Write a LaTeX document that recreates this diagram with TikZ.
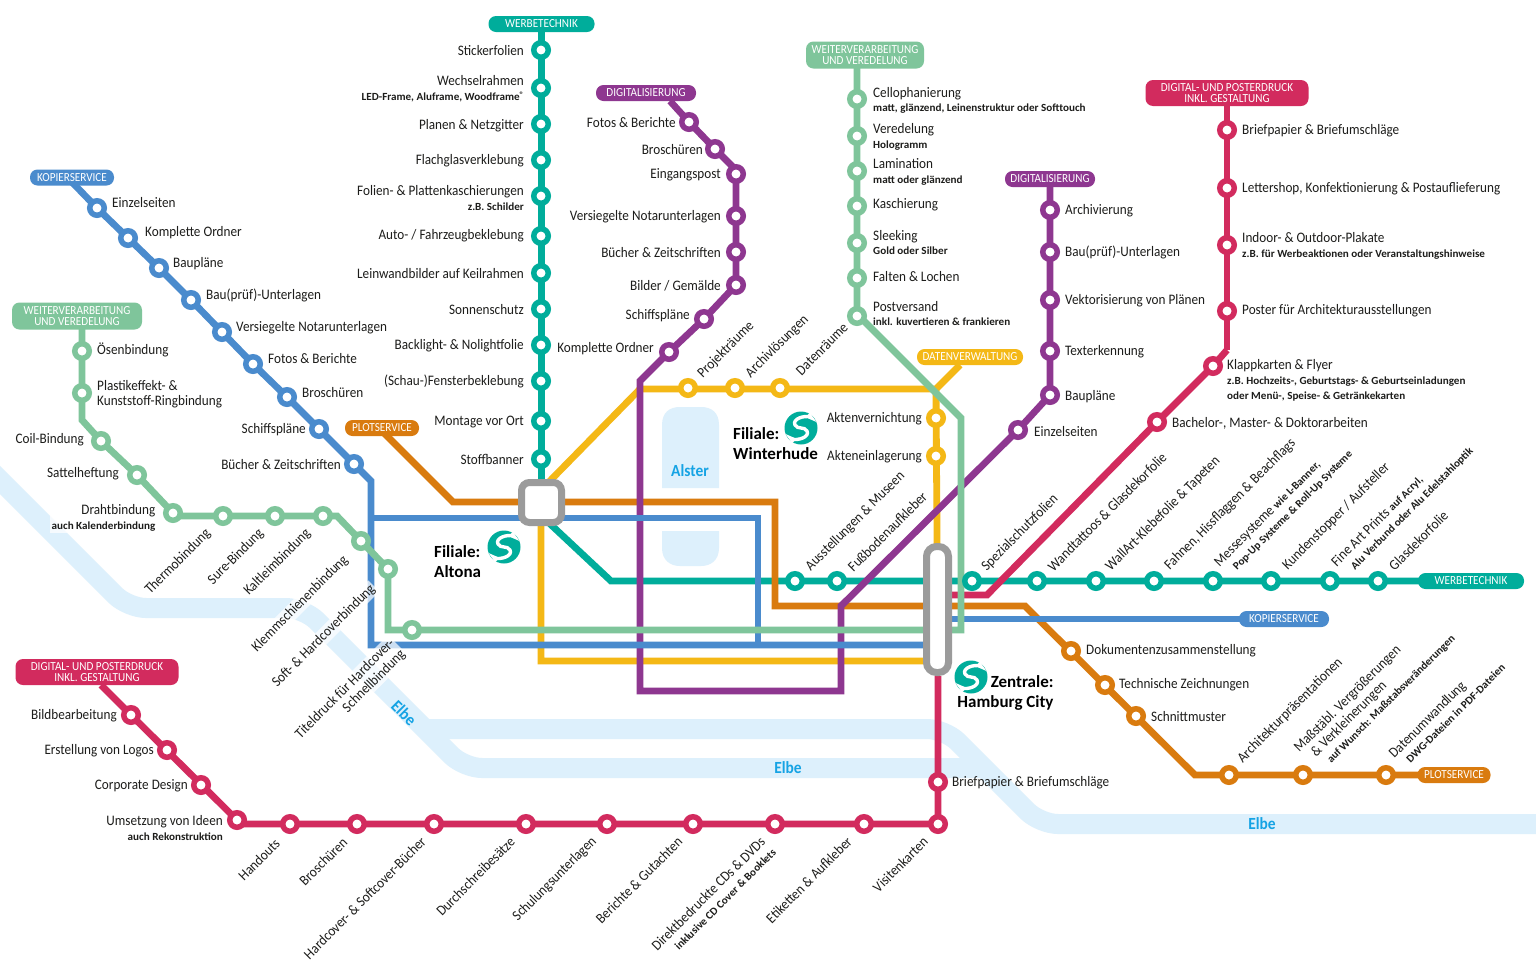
\documentclass[tikz,border=0pt]{standalone}
\usepackage{fontspec}
\setmainfont[FakeStretch=0.91]{Carlito}
\newfontfamily\subfam[FakeStretch=1.02]{Carlito}
\newfontfamily\cityfam[FakeStretch=1.0]{Carlito}
\usetikzlibrary{backgrounds}
\definecolor{ctl}{HTML}{00AD9B}
\definecolor{cgr}{HTML}{7FC59B}
\definecolor{cbl}{HTML}{4A8BCD}
\definecolor{cmg}{HTML}{D22B5E}
\definecolor{cpu}{HTML}{8E3790}
\definecolor{cor}{HTML}{D97B0F}
\definecolor{cye}{HTML}{F4B816}
\definecolor{cgy}{HTML}{9B9B9B}
\definecolor{criv}{HTML}{DDF0FC}
\definecolor{ctx}{HTML}{1D1D1B}
\definecolor{cel}{HTML}{15A3E4}
\pgfdeclarelayer{river}
\pgfdeclarelayer{lines}
\pgfsetlayers{river,lines,main}
\newcommand\subt[1]{{\fontsize{10.9}{15}\selectfont\subfam\bfseries #1}}
\newcommand\stn[4]{\node[stn=#1] (#2) at (#3,#4) {};}
\newcommand\lbl[5]{\node[#1] (#2) at (#3,#4) {#5};}
\newcommand\pillnode[7]{\node[pill=#1,minimum width=#5pt,minimum height=#6pt] (#2) at (#3,#4) {#7};}
\newcommand\logomark[3]{%
  \node[logoc] (#1) at (#2,#3) {};
  \begin{scope}[shift={(#1.center)}]
    \draw[white,line width=3.4pt] (10,-11) .. controls (3,-13) and (-9,-9) .. (-6,-3) .. controls (-3,2) and (3,-2) .. (6,3) .. controls (9,9) and (-3,13) .. (-10,11);
    \fill[white] (4,-11) -- (9,-15) -- (15.5,-6) -- cycle;
    \fill[white] (-4,11) -- (-9,15) -- (-15.5,6) -- cycle;
  \end{scope}}
\tikzset{
  stn/.style={circle,draw=#1,line width=5.5pt,fill=white,minimum size=14.5pt,inner sep=0pt},
  ln/.style={draw=#1,line width=6.8pt,line join=miter},
  pill/.style={fill=#1,rounded corners=7.5pt,inner sep=0pt,text=white,align=center,font=\fontsize{12.3}{11.5}\selectfont},
  hub/.style={draw=cgy,line width=7pt,fill=white,inner sep=0pt},
  base/.style={inner sep=0pt,text=ctx,yshift=-.8pt,font=\fontsize{14.5}{15}\selectfont},
  rt/.style={base,anchor=west,align=left},
  lf/.style={base,anchor=east,align=right},
  ur/.style={rt,rotate=45},
  dl/.style={lf,rotate=45},
  halo/.style={fill=white,fill opacity=.72,text opacity=1,inner sep=1.5pt},
  city/.style={inner sep=0pt,text=black,anchor=west,align=left,font=\fontsize{17}{20}\selectfont\cityfam\bfseries},
  rivertxt/.style={inner sep=0pt,text=cel,font=\fontsize{17}{17}\selectfont\bfseries},
  riv/.style={draw=criv,line width=20pt,rounded corners=18pt},
  logoc/.style={circle,fill=ctl,minimum size=33pt,inner sep=0pt},
  lake/.style={fill=criv}
}
\begin{document}
\begin{tikzpicture}[x=1pt,y=-1pt]
\useasboundingbox (0,0) rectangle (1536,978);

% ---------- labels with a halo lie under the stations
\lbl{lf,halo}{lDraht}{157}{517}{Drahtbindung\\\subt{auch Kalenderbindung}}
\lbl{dl,halo}{lKlemm}{347}{556}{Klemmschienenbindung}
\lbl{dl,halo}{lSoft}{374}{585}{Soft- \& Hardcoverbindung}
\lbl{dl,halo}{lTitel}{399}{645}{Titeldruck für Hardcover-\\Schnellbindung}

% ---------- hubs
\node[hub,minimum width=40pt,minimum height=40pt,rounded corners=8pt] (hubA) at (541.5,502.5) {};
\node[hub,minimum width=22pt,minimum height=126pt,rounded corners=10pt] (hubC) at (937.5,609.5) {};

% ---------- pills
\pillnode{ctl}{pTeA}{541.5}{24}{106}{16}{WERBETECHNIK}
\pillnode{ctl}{pTeB}{1471}{581}{106}{16}{WERBETECHNIK}
\pillnode{cor}{pOrA}{382}{428}{74}{16}{PLOTSERVICE}
\pillnode{cor}{pOrB}{1454}{775}{73}{16}{PLOTSERVICE}
\pillnode{cbl}{pBlA}{72}{177.5}{84}{16}{KOPIERSERVICE}
\pillnode{cbl}{pBlB}{1284}{619}{90}{16}{KOPIERSERVICE}
\pillnode{cgr}{pGrA}{77}{316}{130}{27}{WEITERVERARBEITUNG\\UND VEREDELUNG}
\pillnode{cgr}{pGrB}{865}{55}{118}{27}{WEITERVERARBEITUNG\\UND VEREDELUNG}
\pillnode{cpu}{pPuA}{646}{93}{100}{16}{DIGITALISIERUNG}
\pillnode{cpu}{pPuB}{1050}{179}{90}{16}{DIGITALISIERUNG}
\pillnode{cye}{pYe}{970}{357}{106}{16}{DATENVERWALTUNG}
\pillnode{cmg}{pMgA}{1227}{93}{163}{26}{DIGITAL- UND POSTERDRUCK\\INKL. GESTALTUNG}
\pillnode{cmg}{pMgB}{97}{672}{163}{26}{DIGITAL- UND POSTERDRUCK\\INKL. GESTALTUNG}

% ---------- corner points
\coordinate (kTeA) at (548,522);
\coordinate (kTeB) at (611,581);
\coordinate (kYeA) at (960,365);
\coordinate (kYeB) at (936,389);
\coordinate (kYeC) at (640,389);
\coordinate (kYeD) at (541,490);
\coordinate (kYeE) at (541,661);
\coordinate (kYeF) at (937,661);
\coordinate (kOrA) at (383,432);
\coordinate (kOrB) at (453,502);
\coordinate (kOrC) at (775,502);
\coordinate (kOrD) at (775,606);
\coordinate (kOrE) at (1025,606);
\coordinate (kOrF) at (1195,775);
\coordinate (kBlA) at (67,177);
\coordinate (kBlB) at (371,481);
\coordinate (kBlC) at (371,645);
\coordinate (kBlD) at (937,645);
\coordinate (kBlE) at (371,518);
\coordinate (kBlF) at (758,518);
\coordinate (kBlG) at (758,645);
\coordinate (kBlH) at (937,619);
\coordinate (kGrA) at (82,420);
\coordinate (kGrB) at (177,516);
\coordinate (kGrC) at (337,516);
\coordinate (kGrD) at (388,630);
\coordinate (kGrE) at (961,630);
\coordinate (kGrF) at (961,418);
\coordinate (kGrG) at (857,314);
\coordinate (kPuA) at (670,101);
\coordinate (kPuB) at (736,170);
\coordinate (kPuC) at (640,381);
\coordinate (kPuD) at (640,691);
\coordinate (kPuE) at (841,691);
\coordinate (kPuF) at (841,606);
\coordinate (kMgA) at (1227,350);
\coordinate (kMgB) at (987,595);
\coordinate (kMgC) at (937,595);
\coordinate (kMgD) at (101,685);
\coordinate (kMgE) at (938,676);
\coordinate (kMgF) at (241,824);

% ---------- stations: teal
\stn{ctl}{t1}{541}{50}\stn{ctl}{t2}{541}{88}\stn{ctl}{t3}{541}{124}\stn{ctl}{t4}{541}{160}
\stn{ctl}{t5}{541}{196}\stn{ctl}{t6}{541}{236}\stn{ctl}{t7}{541}{273}\stn{ctl}{t8}{541}{309}
\stn{ctl}{t9}{541}{345}\stn{ctl}{t10}{541}{381}\stn{ctl}{t11}{541}{421}\stn{ctl}{t12}{541}{459}
\stn{ctl}{t13}{795}{581}\stn{ctl}{t14}{837}{581}\stn{ctl}{t15}{972}{581}\stn{ctl}{t16}{1037}{581}
\stn{ctl}{t17}{1096}{581}\stn{ctl}{t18}{1154}{581}\stn{ctl}{t19}{1213}{581}\stn{ctl}{t20}{1271}{581}
\stn{ctl}{t21}{1330}{581}\stn{ctl}{t22}{1378}{581}
% yellow
\stn{cye}{y1}{688}{388}\stn{cye}{y2}{735}{388}\stn{cye}{y3}{780}{388}\stn{cye}{y4}{936}{418}\stn{cye}{y5}{936}{456}
% orange
\stn{cor}{o1}{1071}{651}\stn{cor}{o2}{1105}{685}\stn{cor}{o3}{1136}{716}\stn{cor}{o4}{1229}{775}\stn{cor}{o5}{1303}{775}\stn{cor}{o6}{1386}{775}
% blue
\stn{cbl}{b1}{97}{208}\stn{cbl}{b2}{128}{238}\stn{cbl}{b3}{159}{268}\stn{cbl}{b4}{191}{300}\stn{cbl}{b5}{222}{332}
\stn{cbl}{b6}{253}{364}\stn{cbl}{b7}{287}{397}\stn{cbl}{b8}{319}{429}\stn{cbl}{b9}{354}{464}
% green
\stn{cgr}{g1}{82}{351}\stn{cgr}{g2}{82}{393}\stn{cgr}{g3}{101}{441}\stn{cgr}{g4}{137}{475}\stn{cgr}{g5}{173}{513}
\stn{cgr}{g6}{223}{516}\stn{cgr}{g7}{275}{516}\stn{cgr}{g8}{323}{516}\stn{cgr}{g9}{361}{541}\stn{cgr}{g10}{388}{569}\stn{cgr}{g11}{412}{630}
\stn{cgr}{g12}{857}{316}\stn{cgr}{g13}{857}{278}\stn{cgr}{g14}{857}{243}\stn{cgr}{g15}{857}{206}\stn{cgr}{g16}{857}{171}\stn{cgr}{g17}{857}{136}\stn{cgr}{g18}{857}{99}
% purple
\stn{cpu}{p1}{689}{122}\stn{cpu}{p2}{715}{149}\stn{cpu}{p3}{736}{174}\stn{cpu}{p4}{736}{216}\stn{cpu}{p5}{736}{252}\stn{cpu}{p6}{736}{285}
\stn{cpu}{p7}{704}{319}\stn{cpu}{p8}{669}{352}\stn{cpu}{p9}{1018}{430}\stn{cpu}{p10}{1050}{395}\stn{cpu}{p11}{1050}{351}\stn{cpu}{p12}{1050}{300}\stn{cpu}{p13}{1050}{252}\stn{cpu}{p14}{1050}{210}
% magenta
\stn{cmg}{m1}{1227}{130}\stn{cmg}{m2}{1227}{188}\stn{cmg}{m3}{1227}{245}\stn{cmg}{m4}{1227}{311}\stn{cmg}{m5}{1213}{366}\stn{cmg}{m6}{1157}{422}
\stn{cmg}{m7}{938}{782}\stn{cmg}{m8}{938}{824}\stn{cmg}{m9}{864}{824}\stn{cmg}{m10}{775}{824}\stn{cmg}{m11}{693}{824}\stn{cmg}{m12}{607}{824}
\stn{cmg}{m13}{526}{824}\stn{cmg}{m14}{434}{824}\stn{cmg}{m15}{357}{824}\stn{cmg}{m16}{290}{824}\stn{cmg}{m17}{237}{820}\stn{cmg}{m18}{201}{785}\stn{cmg}{m19}{167}{750}\stn{cmg}{m20}{131}{715}

% ---------- connectors
\begin{pgfonlayer}{lines}
\draw[ln=cye] (kYeA.center) -- (kYeB.center) -- (kYeC.center) -- (kYeD.center) -- (kYeE.center) -- (kYeF.center);
\draw[ln=cye] (kYeB.center) -- (hubC.center);
\draw[ln=ctl] (pTeA.center) -- (hubA.center);
\draw[ln=ctl] (hubA.center) -- (kTeA.center) -- (kTeB.center) -- (pTeB.center);
\draw[ln=cmg] (kMgA.center) -- (m1.center) -- (pMgA.center);
\draw[ln=cmg] (kMgC.center) -- (kMgB.center) -- (m6.center) -- (m5.center) -- (kMgA.center);
\draw[ln=cmg] (kMgE.center) -- (m8.center) -- (kMgF.center) -- (m17.center) -- (m20.center) -- (kMgD.center);
\draw[ln=cor] (kOrA.center) -- (kOrB.center) -- (kOrC.center) -- (kOrD.center) -- (kOrE.center) -- (kOrF.center) -- (pOrB.center);
\draw[ln=cpu] (kPuA.center) -- (p1.center) -- (p2.center) -- (kPuB.center) -- (p6.center) -- (p7.center) -- (p8.center) -- (kPuC.center) -- (kPuD.center) -- (kPuE.center) -- (kPuF.center) -- (p9.center) -- (p10.center) -- (pPuB.center);
\draw[ln=cbl] (kBlA.center) -- (b1.center) -- (b2.center) -- (b3.center) -- (b4.center) -- (b5.center) -- (b6.center) -- (b7.center) -- (b8.center) -- (b9.center) -- (kBlB.center) -- (kBlC.center) -- (kBlD.center);
\draw[ln=cbl] (kBlE.center) -- (kBlF.center) -- (kBlG.center);
\draw[ln=cbl] (kBlH.center) -- (pBlB.center);
\draw[ln=cgr] (pGrA.center -| g1) -- (kGrA.center) -- (g3.center) -- (g4.center) -- (g5.center) -- (kGrB.center) -- (kGrC.center) -- (g9.center) -- (g10.center) -- (kGrD.center) -- (kGrE.center) -- (kGrF.center) -- (kGrG.center) -- (pGrB.center -| g12);
\end{pgfonlayer}

% ---------- river
\begin{pgfonlayer}{river}
\fill[white] (0,0) rectangle (1536,978);
\begin{scope}
\clip (0,0) rectangle (1536,978);
\draw[riv] (-30,450) -- (128,608) -- (304,608) -- (464,768) -- (984,768);
\draw[riv] (425,729) -- (945,729) -- (1040,824) -- (1560,824);
\end{scope}
\fill[lake] (662,488) -- (662,425) .. controls (662,412) and (670,407) .. (680,407) -- (701,407) .. controls (711,407) and (719,412) .. (719,425) -- (719,488) -- cycle;
\fill[lake] (662,531) -- (719,531) -- (719,548) .. controls (719,560) and (711,566) .. (701,566) -- (680,566) .. controls (670,566) and (662,560) .. (662,548) -- cycle;
\end{pgfonlayer}
\node[rivertxt] (tAlster) at (690,471) {Alster};
\node[rivertxt,rotate=-45] (tElbeA) at (404,713) {Elbe};
\node[rivertxt] (tElbeB) at (788,768) {Elbe};
\node[rivertxt] (tElbeC) at (1262,824) {Elbe};

% ---------- logos and city names
\logomark{lgA}{504}{547}
\logomark{lgB}{801}{428}
\logomark{lgC}{971}{677}
\lbl{city}{cA}{434}{562}{Filiale:\\Altona}
\lbl{city}{cB}{733}{444}{Filiale:\\Winterhude}
\lbl{city,anchor=center,align=right}{cC}{1005.5}{693}{Zentrale:\\Hamburg City}

% ---------- labels: teal
\lbl{lf}{lt1}{524}{50}{Stickerfolien}
\lbl{lf}{lt2}{524}{88}{Wechselrahmen\\\subt{LED-Frame, Aluframe, Woodframe\raisebox{3pt}{\fontsize{8}{8}\selectfont ®}}}
\lbl{lf}{lt3}{524}{125}{Planen \& Netzgitter}
\lbl{lf}{lt4}{524}{160}{Flachglasverklebung}
\lbl{lf}{lt5}{524}{197}{Folien- \& Plattenkaschierungen\\\subt{z.B. Schilder}}
\lbl{lf}{lt6}{524}{235}{Auto- / Fahrzeugbeklebung}
\lbl{lf}{lt7}{524}{273}{Leinwandbilder auf Keilrahmen}
\lbl{lf}{lt8}{524}{309}{Sonnenschutz}
\lbl{lf}{lt9}{524}{345}{Backlight- \& Nolightfolie}
\lbl{lf}{lt10}{524}{381}{(Schau-)Fensterbeklebung}
\lbl{lf}{lt11}{524}{421}{Montage vor Ort}
\lbl{lf}{lt12}{524}{459}{Stoffbanner}
\lbl{ur}{lt13}{808}{568}{Ausstellungen \& Museen}
\lbl{ur}{lt14}{850}{568}{Fußbodenaufkleber}
\lbl{ur}{lt15}{984}{568}{Spezialschutzfolien}
\lbl{ur}{lt16}{1050}{568}{Wandtattoos \& Glasdekorfolie}
\lbl{ur}{lt17}{1108}{568}{WallArt-Klebefolie \& Tapeten}
\lbl{ur}{lt18}{1167}{567}{Fahnen, Hissflaggen \& Beachflags}
\lbl{ur}{lt19}{1222}{569}{Messesysteme \subt{wie L-Banner,}\\\hspace*{10pt}\subt{Pop-Up Systeme \& Roll-Up Systeme}}
\lbl{ur}{lt20}{1285}{567}{Kundenstopper / Aufsteller}
\lbl{ur}{lt21}{1339}{569}{Fine Art Prints \subt{auf Acryl,}\\\hspace*{11pt}\subt{Alu Verbund oder Alu Edelstahloptik}}
\lbl{ur}{lt22}{1391}{567}{Glasdekorfolie}
% yellow
\lbl{ur}{ly1}{700}{375}{Projekträume}
\lbl{ur}{ly2}{748}{375}{Archivlösungen}
\lbl{ur}{ly3}{798}{372}{Datenräume}
\lbl{lf}{ly4}{922}{418}{Aktenvernichtung}
\lbl{lf}{ly5}{922}{456}{Akteneinlagerung}
% orange
\lbl{rt}{lo1}{1086}{650}{Dokumentenzusammenstellung}
\lbl{rt}{lo2}{1119}{684}{Technische Zeichnungen}
\lbl{rt}{lo3}{1151}{716}{Schnittmuster}
\lbl{ur}{lo4}{1240}{760}{Architekturpräsentationen}
\lbl{ur}{lo5}{1307}{760}{Maßstäbl. Vergrößerungen\\\hspace*{9pt}\& Verkleinerungen\\\hspace*{15pt}\subt{auf Wunsch: Maßstabsveränderungen}}
\lbl{ur}{lo6}{1396}{760}{Datenumwandlung\\\hspace*{8pt}\subt{DWG-Dateien in PDF-Dateien}}
% blue
\lbl{rt}{lb1}{112}{202}{Einzelseiten}
\lbl{rt}{lb2}{145}{232}{Komplette Ordner}
\lbl{rt}{lb3}{173}{263}{Baupläne}
\lbl{rt}{lb4}{206}{295}{Bau(prüf)-Unterlagen}
\lbl{rt}{lb5}{236}{327}{Versiegelte Notarunterlagen}
\lbl{rt}{lb6}{268}{358}{Fotos \& Berichte}
\lbl{rt}{lb7}{302}{392}{Broschüren}
\lbl{lf}{lb8}{306}{429}{Schiffspläne}
\lbl{lf}{lb9}{341}{464}{Bücher \& Zeitschriften}
% green left
\lbl{rt}{lg1}{97}{349}{Ösenbindung}
\lbl{rt}{lg2}{97}{393}{Plastikeffekt- \&\\Kunststoff-Ringbindung}
\lbl{lf}{lg3}{84}{439}{Coil-Bindung}
\lbl{lf}{lg4}{119}{473}{Sattelheftung}
\lbl{dl}{lg6}{208.5}{530.5}{Thermobindung}
\lbl{dl}{lg7}{261.5}{530.5}{Sure-Bindung}
\lbl{dl}{lg8}{308.5}{530.5}{Kaltleimbindung}
% green top
\lbl{rt}{lg18}{873}{99.5}{Cellophanierung\\[-1pt]\subt{matt, glänzend, Leinenstruktur oder Softtouch}}
\lbl{rt}{lg17}{873}{136.5}{Veredelung\\\subt{Hologramm}}
\lbl{rt}{lg16}{873}{171.5}{Lamination\\\subt{matt oder glänzend}}
\lbl{rt}{lg15}{873}{204}{Kaschierung}
\lbl{rt}{lg14}{873}{242}{Sleeking\\[-1pt]\subt{Gold oder Silber}}
\lbl{rt}{lg13}{873}{276}{Falten \& Lochen}
\lbl{rt}{lg12}{873}{313}{Postversand\\[-1pt]\subt{inkl. kuvertieren \& frankieren}}
% purple
\lbl{lf}{lp1}{676}{122}{Fotos \& Berichte}
\lbl{lf}{lp2}{703}{149}{Broschüren}
\lbl{lf}{lp3}{721}{174}{Eingangspost}
\lbl{lf}{lp4}{721}{216}{Versiegelte Notarunterlagen}
\lbl{lf}{lp5}{721}{252}{Bücher \& Zeitschriften}
\lbl{lf}{lp6}{721}{285}{Bilder / Gemälde}
\lbl{lf}{lp7}{690}{315}{Schiffspläne}
\lbl{lf}{lp8}{654}{348}{Komplette Ordner}
\lbl{rt}{lp9}{1034}{431}{Einzelseiten}
\lbl{rt}{lp10}{1065}{396}{Baupläne}
\lbl{rt}{lp11}{1065}{351}{Texterkennung}
\lbl{rt}{lp12}{1065}{300}{Vektorisierung von Plänen}
\lbl{rt}{lp13}{1065}{252}{Bau(prüf)-Unterlagen}
\lbl{rt}{lp14}{1065}{210}{Archivierung}
% magenta
\lbl{rt}{lm1}{1242}{130}{Briefpapier \& Briefumschläge}
\lbl{rt}{lm2}{1242}{188}{Lettershop, Konfektionierung \& Postauflieferung}
\lbl{rt}{lm3}{1242}{245}{Indoor- \& Outdoor-Plakate\\\subt{z.B. für Werbeaktionen oder Veranstaltungshinweise}}
\lbl{rt}{lm4}{1242}{310}{Poster für Architekturausstellungen}
\lbl{rt}{lm5}{1227}{380}{Klappkarten \& Flyer\\\subt{z.B. Hochzeits-, Geburtstags- \& Geburtseinladungen}\\\subt{oder Menü-, Speise- \& Getränkekarten}}
\lbl{rt}{lm6}{1172}{423}{Bachelor-, Master- \& Doktorarbeiten}
\lbl{rt}{lm7}{952}{782}{Briefpapier \& Briefumschläge}
\lbl{dl}{lm8}{925.5}{838.5}{Visitenkarten}
\lbl{dl}{lm9}{849.5}{838.5}{Etiketten \& Aufkleber}
\lbl{dl}{lm10}{768}{843.5}{Direktbedruckte CDs \& DVDs\\\subt{inklusive CD Cover \& Booklets}}
\lbl{dl}{lm11}{680}{838.5}{Berichte \& Gutachten}
\lbl{dl}{lm12}{594.5}{838.5}{Schulungsunterlagen}
\lbl{dl}{lm13}{512.5}{838.5}{Durchschreibesätze}
\lbl{dl}{lm14}{423.5}{838.5}{Hardcover- \& Softcover-Bücher}
\lbl{dl}{lm15}{345}{839}{Broschüren}
\lbl{dl}{lm16}{277.5}{840.5}{Handouts}
\lbl{lf}{lm17}{223}{827}{Umsetzung von Ideen\\\subt{auch Rekonstruktion}}
\lbl{lf}{lm18}{188}{785}{Corporate Design}
\lbl{lf}{lm19}{154}{750}{Erstellung von Logos}
\lbl{lf}{lm20}{117}{715}{Bildbearbeitung}
\end{tikzpicture}
\end{document}
